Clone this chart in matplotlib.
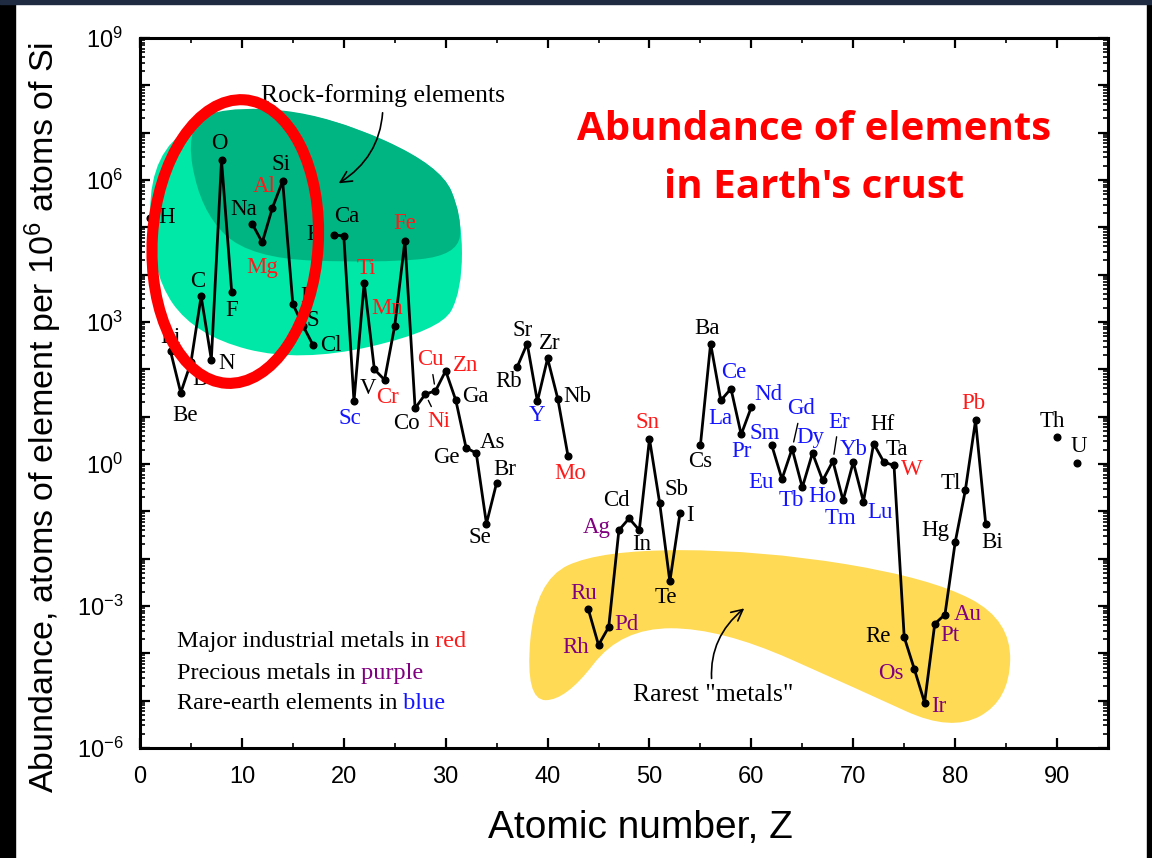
import numpy as np
import matplotlib
matplotlib.use('Agg')
import matplotlib.pyplot as plt
import matplotlib.transforms as mtransforms
from matplotlib.patches import Ellipse, PathPatch, Rectangle
from matplotlib.path import Path
from matplotlib.ticker import FixedLocator, LogLocator, FuncFormatter, MultipleLocator, NullFormatter

plt.rcParams['font.family'] = ['Liberation Sans', 'DejaVu Sans']
plt.rcParams['mathtext.fontset'] = 'custom'
plt.rcParams['mathtext.rm'] = 'Liberation Sans'
plt.rcParams['mathtext.it'] = 'Liberation Sans:italic'
plt.rcParams['mathtext.bf'] = 'Liberation Sans:bold'

# Data: atoms of element per 10^6 atoms of Si
symbols = ['H', 'Li', 'Be', 'B', 'C', 'N', 'O', 'F',
           'Na', 'Mg', 'Al', 'Si', 'P', 'S', 'Cl',
           'K', 'Ca', 'Sc', 'Ti', 'V', 'Cr', 'Mn', 'Fe', 'Co', 'Ni', 'Cu', 'Zn',
           'Ga', 'Ge', 'As', 'Se', 'Br',
           'Rb', 'Sr', 'Y', 'Zr', 'Nb', 'Mo',
           'Ru', 'Rh', 'Pd', 'Ag', 'Cd', 'In', 'Sn', 'Sb', 'Te', 'I',
           'Cs', 'Ba', 'La', 'Ce', 'Pr', 'Nd',
           'Sm', 'Eu', 'Gd', 'Tb', 'Dy', 'Ho', 'Er', 'Tm', 'Yb', 'Lu', 'Hf', 'Ta', 'W',
           'Re', 'Os', 'Ir', 'Pt', 'Au', 'Hg', 'Tl', 'Pb', 'Bi',
           'Th', 'U']
atomic_number = [1, 3, 4, 5, 6, 7, 8, 9,
                 11, 12, 13, 14, 15, 16, 17,
                 19, 20, 21, 22, 23, 24, 25, 26, 27, 28, 29, 30,
                 31, 32, 33, 34, 35,
                 37, 38, 39, 40, 41, 42,
                 44, 45, 46, 47, 48, 49, 50, 51, 52, 53,
                 55, 56, 57, 58, 59, 60,
                 62, 63, 64, 65, 66, 67, 68, 69, 70, 71, 72, 73, 74,
                 75, 76, 77, 78, 79, 80, 81, 82, 83,
                 90, 92]
abundance = [1.6e5, 240, 32, 140, 3500, 160, 2.6e6, 4300,
             1.2e5, 4.8e4, 2.6e5, 9.5e5, 2400, 830, 320,
             6.9e4, 6.6e4, 21, 6800, 100, 60, 830, 5.2e4, 15, 30, 35, 93,
             22, 2.2, 1.7, 0.055, 0.40,
             110, 350, 21, 170, 24, 1.5,
             8.5e-4, 1.5e-4, 3.6e-4, 0.040, 0.071, 0.040, 3.4, 0.15, 3.3e-3, 0.093,
             2.5, 350, 22, 39, 4.2, 16,
             2.5, 0.48, 2.1, 0.32, 1.7, 0.45, 1.15, 0.17, 1.1, 0.16, 2.7, 1.1, 0.93,
             2.2e-4, 4.6e-5, 9.1e-6, 4.2e-4, 6.6e-4, 0.022, 0.28, 8.3, 0.054,
             3.7, 1.05]

industrial_metals = ['Mg', 'Al', 'Ti', 'Cr', 'Mn', 'Fe', 'Ni', 'Cu', 'Zn', 'Mo', 'Sn', 'W', 'Pb']
precious_metals = ['Ru', 'Rh', 'Pd', 'Ag', 'Os', 'Ir', 'Pt', 'Au']
rare_earths = ['Sc', 'Y', 'La', 'Ce', 'Pr', 'Nd', 'Sm', 'Eu', 'Gd', 'Tb', 'Dy',
               'Ho', 'Er', 'Tm', 'Yb', 'Lu']

RED, PURPLE, BLUE = '#ff1a1a', '#800080', '#1414ff'

# label placement (pixels right / down from the dot)
label_offsets = {
    'H': (16, 0), 'Li': (0, -14), 'Be': (4, 23), 'B': (9, 17), 'C': (-3, -15),
    'N': (15, 4), 'O': (-2, -17), 'F': (0, 18), 'Na': (-8, -14), 'Mg': (0, 25),
    'Al': (-8, -21), 'Si': (-2, -17), 'P': (14, -8), 'S': (10, -5), 'Cl': (18, 0),
    'K': (-19, 0), 'Ca': (3, -19), 'Sc': (-4, 17), 'Ti': (2, -14), 'V': (-6, 19),
    'Cr': (3, 18), 'Mn': (-8, -17), 'Fe': (0, -17), 'Co': (-9, 15), 'Ni': (13, 27),
    'Cu': (-5, -31), 'Zn': (20, -5), 'Ga': (20, -4), 'Ge': (-20, 10), 'As': (16, -11),
    'Se': (-7, 14), 'Br': (8, -13), 'Rb': (-8, 14), 'Sr': (-5, -13), 'Y': (0, 14),
    'Zr': (2, -15), 'Nb': (20, -2), 'Mo': (2, 18), 'Ru': (-5, -16), 'Rh': (-23, 3),
    'Pd': (18, -3), 'Ag': (-22, -3), 'Cd': (-13, -18), 'In': (2, 14), 'Sn': (-2, -16),
    'Sb': (17, -13), 'Te': (-4, 16), 'I': (10, 3), 'Cs': (0, 16), 'Ba': (-4, -15),
    'La': (0, 18), 'Ce': (3, -16), 'Pr': (0, 17), 'Nd': (17, -13), 'Sm': (-7, -12),
    'Eu': (-21, 3), 'Gd': (9, -40), 'Tb': (-11, 13), 'Dy': (-2, -16), 'Ho': (0, 16),
    'Er': (6, -39), 'Tm': (-3, 18), 'Yb': (0, -13), 'Lu': (17, 11), 'Hf': (9, -19),
    'Ta': (13, -13), 'W': (18, 4), 'Re': (-26, -1), 'Os': (-24, 4), 'Ir': (14, 4),
    'Pt': (15, 12), 'Au': (23, 0), 'Hg': (-20, -12), 'Tl': (-15, -7), 'Pb': (-2, -17),
    'Bi': (6, 18), 'Th': (-5, -16), 'U': (1, -16),
}
leader_lines = ['Cu', 'Ni', 'Gd', 'Er']

# outline control points of the shaded regions, (Z, log10 abundance)
rock_outer = [(1.0, 6.62), (8.8, 7.57), (18.7, 7.35), (29.5, 6.30), (31.6, 5.24),
              (31.6, 3.66), (29.5, 2.82), (15.7, 2.14), (5.4, 2.71), (1.0, 4.08)]
rock_inner = [(4.4, 7.25), (9.8, 7.57), (18.7, 7.35), (29.5, 6.30), (31.6, 5.24),
              (31.2, 4.40), (23.6, 4.25), (10.8, 4.34), (5.9, 5.35)]
rarest = [(38.8, -2.46), (45.2, -1.82), (60.9, -1.82), (77.6, -2.41), (85.5, -3.30),
          (85.3, -4.99), (79.6, -5.66), (70.7, -4.78), (57.0, -3.47), (47.2, -3.47),
          (41.8, -4.99), (37.8, -4.99)]


def smooth_blob(ax, pts, **kw):
    """Closed smooth outline through the midpoints of a control polygon."""
    pts = np.asarray(pts, float)
    mids = (pts + np.roll(pts, -1, axis=0)) / 2
    verts = [mids[-1]]
    codes = [Path.MOVETO]
    for p, m in zip(pts, mids):
        verts += [p, m]
        codes += [Path.CURVE3, Path.CURVE3]
    verts = np.array(verts)
    verts[:, 1] = 10 ** verts[:, 1]
    ax.add_patch(PathPatch(Path(verts, codes), lw=0, **kw))


W, H = 1152, 858
fig = plt.figure(figsize=(W / 100, H / 100), dpi=100)
fig.add_artist(Rectangle((0, 0), 15 / W, 1, transform=fig.transFigure, color='black', zorder=-5))
fig.add_artist(Rectangle((1147 / W, 0), 5 / W, 1, transform=fig.transFigure, color='black', zorder=-5))
fig.add_artist(Rectangle((0, 1 - 4 / H), 1, 4 / H, transform=fig.transFigure, color='#1e2b40', zorder=-4))

ax = fig.add_axes([140 / W, 110 / H, 968 / W, 710 / H])
ax.set_yscale('log')
ax.set_xlim(0, 95)
ax.set_ylim(1e-6, 1e9)

smooth_blob(ax, rock_outer, color='#00e8a8', zorder=1)
smooth_blob(ax, rock_inner, color='#00b582', zorder=1.1)
smooth_blob(ax, rarest, color='#ffda55', zorder=1)

z = np.array(atomic_number)
a = np.array(abundance)
breaks = np.where(np.diff(z) > 1)[0] + 1
for seg_z, seg_a in zip(np.split(z, breaks), np.split(a, breaks)):
    ax.plot(seg_z, seg_a, '-', color='black', lw=2, zorder=3)
ax.plot(z, a, 'o', color='black', ms=4.8, zorder=4)

for sym, zz, aa in zip(symbols, z, a):
    if sym in industrial_metals:
        col = RED
    elif sym in precious_metals:
        col = PURPLE
    elif sym in rare_earths:
        col = BLUE
    else:
        col = 'black'
    dx, dy = label_offsets[sym]
    kw = {}
    if sym in leader_lines:
        kw['arrowprops'] = dict(arrowstyle='-', lw=1.0, color='black', shrinkA=1, shrinkB=5)
    ax.annotate(sym, (zz, aa), xytext=(dx, -dy), textcoords='offset pixels',
                ha='center', va='center', fontsize=16.5, family='Liberation Serif',
                color=col, zorder=5, **kw)

# red ellipse round the light rock-forming elements
ell_trans = fig.dpi_scale_trans + mtransforms.ScaledTranslation(9.35, 10 ** 4.70, ax.transData)
ax.add_patch(Ellipse((0, 0), 1.66, 2.84, angle=-3.5, fill=False, ec='#ff0000', lw=8,
                     transform=ell_trans, zorder=6, clip_on=False))

ax.annotate('Rock-forming elements', xy=(19.5, 10 ** 5.93), xytext=(23.8, 10 ** 7.78),
            ha='center', va='center', fontsize=18.5, family='Liberation Serif', zorder=5,
            arrowprops=dict(arrowstyle='->', connectionstyle='arc3,rad=-0.3', lw=1.2,
                            color='black', shrinkA=2, shrinkB=0, mutation_scale=20))
ax.annotate('Rarest "metals"', xy=(59.3, 10 ** -3.05), xytext=(56.3, 10 ** -4.88),
            ha='center', va='center', fontsize=18.5, family='Liberation Serif', zorder=5,
            arrowprops=dict(arrowstyle='->', connectionstyle='arc3,rad=-0.3', lw=1.2,
                            color='black', shrinkA=2, shrinkB=0, mutation_scale=20))

legend_lines = [('Major industrial metals in', ' red', RED, -3.74),
                ('Precious metals in', ' purple', PURPLE, -4.42),
                ('Rare-earth elements in', ' blue', BLUE, -5.05)]
for txt, word, col, ly in legend_lines:
    t = ax.text(3.6, 10 ** ly, txt, ha='left', va='center', fontsize=17.5,
                family='Liberation Serif', zorder=5)
    ax.annotate(word, xy=(1, 0), xycoords=t, ha='left', va='bottom', fontsize=17.5,
                family='Liberation Serif', color=col, zorder=5)

# axes styling
for sp in ax.spines.values():
    sp.set_linewidth(2.2)
ax.xaxis.set_major_locator(MultipleLocator(10))
ax.xaxis.set_minor_locator(MultipleLocator(5))
ax.yaxis.set_major_locator(FixedLocator(10.0 ** np.arange(-6, 10)))
ax.yaxis.set_minor_locator(LogLocator(base=10, subs=np.arange(2, 10), numticks=100))
ax.yaxis.set_minor_formatter(NullFormatter())


def decade_label(v, pos):
    e = int(round(np.log10(v)))
    return r'$\mathregular{10^{%d}}$' % e if e % 3 == 0 else ''


ax.yaxis.set_major_formatter(FuncFormatter(decade_label))
ax.tick_params(which='both', direction='in', top=True, right=True, labelsize=17)
ax.tick_params(which='major', length=7, width=1.6)
ax.tick_params(which='minor', length=3.5, width=1.2)
ax.tick_params(axis='x', pad=13)
ax.tick_params(axis='y', pad=12)

fig.text(43 / W, 1 - 417 / H, r'Abundance, atoms of element per 10$^6$ atoms of Si',
         rotation=90, ha='center', va='center', fontsize=24.5)
fig.text(640 / W, 1 - 828 / H, 'Atomic number, Z', ha='center', va='center', fontsize=28)

fig.text(814 / W, 1 - 130 / H, 'Abundance of elements', ha='center', va='center',
         color='#ff0000', fontsize=29, fontweight='bold', family='Open Sans')
fig.text(814 / W, 1 - 187 / H, "in Earth's crust", ha='center', va='center',
         color='#ff0000', fontsize=29, fontweight='bold', family='Open Sans')

fig.savefig('out.png', dpi=100)
